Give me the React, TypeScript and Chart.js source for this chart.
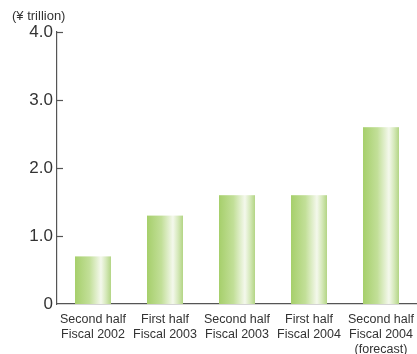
import React, { useEffect, useRef } from "react";
import { Chart, registerables } from "chart.js";

Chart.register(...registerables);

const categories: string[][] = [
  ["Second half", "Fiscal 2002"],
  ["First half", "Fiscal 2003"],
  ["Second half", "Fiscal 2003"],
  ["First half", "Fiscal 2004"],
  ["Second half", "Fiscal 2004", "(forecast)"],
];
const values: number[] = [0.7, 1.3, 1.6, 1.6, 2.6];
const yTicks: number[] = [0, 1, 2, 3, 4];
const unitLabel = "(¥ trillion)";

export default function App() {
  const ref = useRef<HTMLCanvasElement | null>(null);
  useEffect(() => {
    document.body.style.margin = "0";
    const canvas = ref.current!;
    const axisColor = "#555555";
    const textColor = "#333333";
    const font = "'Liberation Sans', Arial, sans-serif";

    const decor = {
      id: "decor",
      afterDatasetsDraw(chart: any) {
        const ctx = chart.ctx;
        const meta = chart.getDatasetMeta(0);
        ctx.save();
        for (const el of meta.data) {
          const x0 = el.x - el.width / 2;
          const g = ctx.createLinearGradient(x0, 0, x0 + el.width, 0);
          g.addColorStop(0, "#a6cf6b");
          g.addColorStop(0.4, "#c2df98");
          g.addColorStop(0.72, "#f4f8ec");
          g.addColorStop(0.86, "#d6e9bb");
          g.addColorStop(1, "#b3d585");
          ctx.fillStyle = g;
          ctx.fillRect(x0, el.y, el.width, el.base - el.y);
        }
        ctx.restore();
      },
      afterDraw(chart: any) {
        const { ctx, chartArea, scales } = chart;
        ctx.save();
        ctx.strokeStyle = axisColor;
        ctx.lineWidth = 1.2;
        for (const t of yTicks) {
          if (t === 0) continue;
          const y = Math.round(scales.y.getPixelForValue(t)) + 0.5;
          ctx.beginPath();
          ctx.moveTo(chartArea.left, y);
          ctx.lineTo(chartArea.left + 6, y);
          ctx.stroke();
        }
        ctx.fillStyle = textColor;
        ctx.font = `13px ${font}`;
        ctx.textAlign = "left";
        ctx.textBaseline = "middle";
        ctx.fillText(unitLabel, 12, 16);
        ctx.restore();
      },
    };

    const chart = new Chart(canvas, {
      type: "bar",
      data: {
        labels: categories,
        datasets: [
          {
            data: values,
            barPercentage: 0.5,
            categoryPercentage: 1,
            backgroundColor: "rgba(0,0,0,0)",
            borderWidth: 0,
          },
        ],
      },
      options: {
        animation: false,
        responsive: false,
        devicePixelRatio: 1,
        layout: { padding: { top: 32, right: 0, bottom: 0, left: 0 } },
        plugins: { legend: { display: false }, tooltip: { enabled: false } },
        scales: {
          x: {
            grid: { display: false, drawTicks: false, tickLength: 0 },
            border: { display: true, color: axisColor, width: 1.2 },
            ticks: {
              color: textColor,
              font: { family: font, size: 12.5, lineHeight: 1.2 },
              maxRotation: 0,
              autoSkip: false,
              padding: 8,
            },
            afterFit: (s: any) => {
              s.height = 50;
              s.paddingLeft = 0;
              s.paddingRight = 0;
            },
          },
          y: {
            min: 0,
            max: 4,
            grid: { display: false, drawTicks: false, tickLength: 0 },
            border: { display: true, color: axisColor, width: 1.2 },
            afterBuildTicks: (s: any) => {
              s.ticks = yTicks.map((v) => ({ value: v }));
            },
            ticks: {
              color: textColor,
              font: { family: font, size: 17 },
              padding: 4,
              callback: (v: any) => (v === 0 ? "0" : Number(v).toFixed(1)),
            },
            afterFit: (s: any) => {
              s.width = 57;
            },
          },
        },
      },
      plugins: [decor],
    } as any);
    return () => chart.destroy();
  }, []);
  return (
    <canvas
      ref={ref}
      width={417}
      height={354}
      style={{ position: "absolute", left: 0, top: 0, width: 417, height: 354 }}
    />
  );
}
